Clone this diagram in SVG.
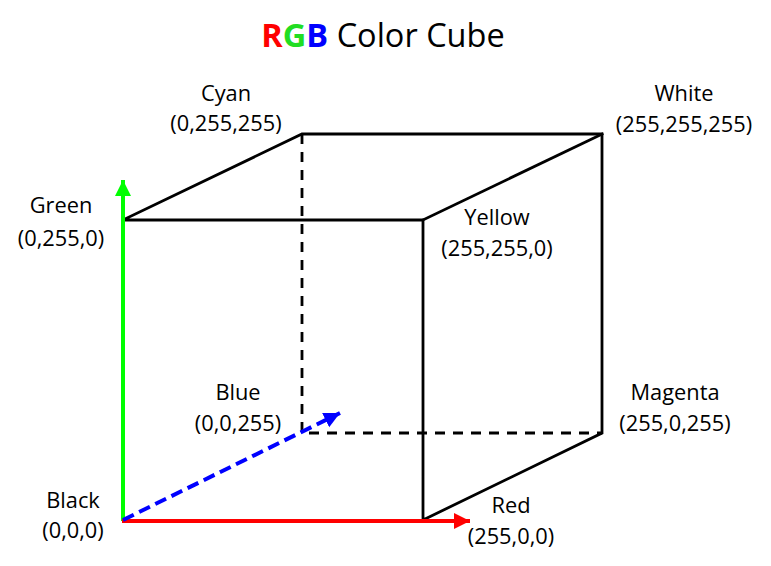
<svg xmlns="http://www.w3.org/2000/svg" width="771" height="566" viewBox="0 0 771 566">
<style>
.lbl{font-family:"Open Sans","Liberation Sans",sans-serif;font-size:21.8px;fill:#000;text-anchor:middle}
.edge{stroke:#000;stroke-width:2.8;fill:none;stroke-linecap:square}
.dash{stroke:#000;stroke-width:2.8;fill:none;stroke-dasharray:10,8}
</style>
<defs>
<marker id="ag" markerUnits="userSpaceOnUse" markerWidth="16" markerHeight="18" refX="16" refY="8" orient="auto" viewBox="0 0 16 16"><path d="M0,0 L16,8 L0,16 Z" fill="#00ff00"/></marker>
<marker id="ar" markerUnits="userSpaceOnUse" markerWidth="16" markerHeight="18" refX="16" refY="8" orient="auto" viewBox="0 0 16 16"><path d="M0,0 L16,8 L0,16 Z" fill="#ff0000"/></marker>
<marker id="ab" markerUnits="userSpaceOnUse" markerWidth="16" markerHeight="18" refX="16" refY="8" orient="auto" viewBox="0 0 16 16"><path d="M0,0 L16,8 L0,16 Z" fill="#0000ff"/></marker>
</defs>
<rect width="771" height="566" fill="#fff"/>
<text x="383" y="47" text-anchor="middle" font-family="Open Sans,Liberation Sans,sans-serif" font-size="32.5"><tspan fill="#ff0000" font-weight="bold">R</tspan><tspan fill="#22dd22" font-weight="bold">G</tspan><tspan fill="#0000ff" font-weight="bold">B</tspan><tspan fill="#000"> Color Cube</tspan></text>
<g id="connectors">
<path class="dash" d="M302,134 V433 H602"/>
<path class="edge" d="M123,220 L302,134 H602 V433 L423,520 V220 H123"/>
<path class="edge" d="M423,220 L602,134"/>
<line x1="123" y1="521" x2="123" y2="180" stroke="#00ff00" stroke-width="4" marker-end="url(#ag)"/>
<line x1="122" y1="521" x2="470" y2="521" stroke="#ff0000" stroke-width="4" marker-end="url(#ar)"/>
<line x1="123" y1="520" x2="340" y2="413" stroke="#0000ff" stroke-width="4" stroke-dasharray="12,6" marker-end="url(#ab)"/>
</g>
<g id="cyan"><text class="lbl" x="226" y="101">Cyan</text><text class="lbl" x="226" y="131">(0,255,255)</text></g>
<g id="white"><text class="lbl" x="684" y="101">White</text><text class="lbl" x="684" y="132">(255,255,255)</text></g>
<g id="green"><text class="lbl" x="61" y="213">Green</text><text class="lbl" x="61" y="246">(0,255,0)</text></g>
<g id="yellow"><text class="lbl" x="497" y="225">Yellow</text><text class="lbl" x="497" y="256">(255,255,0)</text></g>
<g id="blue"><text class="lbl" x="238" y="400">Blue</text><text class="lbl" x="238" y="431">(0,0,255)</text></g>
<g id="magenta"><text class="lbl" x="675" y="400">Magenta</text><text class="lbl" x="675" y="431">(255,0,255)</text></g>
<g id="black"><text class="lbl" x="73" y="508">Black</text><text class="lbl" x="73" y="538">(0,0,0)</text></g>
<g id="red"><text class="lbl" x="511" y="513">Red</text><text class="lbl" x="511" y="544">(255,0,0)</text></g>
</svg>
